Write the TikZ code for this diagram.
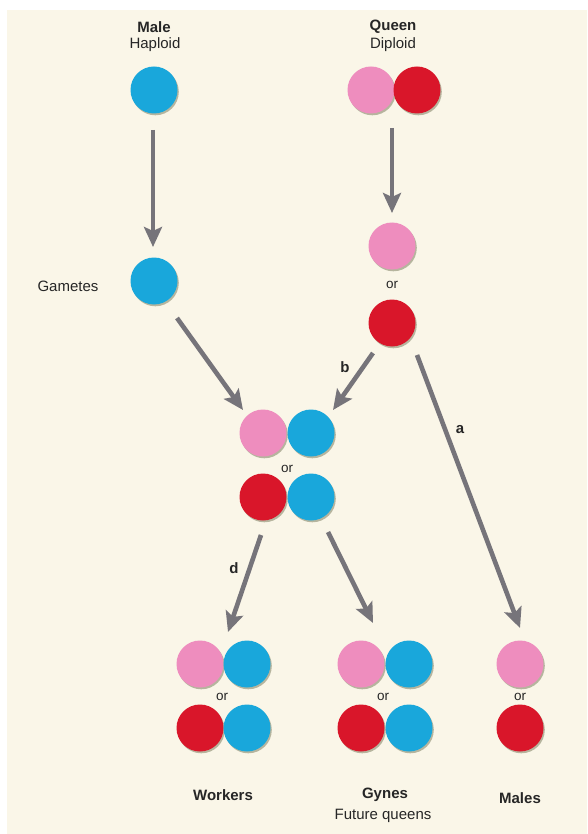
\documentclass[tikz,border=0pt]{standalone}
\usepackage{fontspec}
\setmainfont{Liberation Sans}
\usetikzlibrary{arrows.meta,calc,shadows}
\definecolor{bg}{HTML}{FAF6E8}
\definecolor{ballblue}{HTML}{19A7DB}
\definecolor{ballpink}{HTML}{EE8DBE}
\definecolor{ballred}{HTML}{D9162A}
\definecolor{arrowgray}{HTML}{76747A}
\definecolor{txt}{HTML}{262626}
\definecolor{shade}{HTML}{9A9A80}
\tikzset{
  ball/.style={circle, minimum size=47pt, inner sep=0pt, draw=none,
    drop shadow={shadow xshift=1.3pt, shadow yshift=-1.8pt, fill=shade, opacity=0.7}},
  bball/.style={ball, fill=ballblue},
  pball/.style={ball, fill=ballpink},
  rball/.style={ball, fill=ballred},
  arr/.style={draw=arrowgray, line width=4.6pt, -{Stealth[length=20pt,width=18pt,inset=4pt]}},
  lbl/.style={text=txt, font=\fontsize{15}{16}\selectfont, inner sep=0pt},
  blbl/.style={lbl, font=\fontsize{15}{16}\selectfont\bfseries},
  orlbl/.style={text=txt, font=\fontsize{13.5}{14}\selectfont, inner sep=0pt}
}
\begin{document}
\begin{tikzpicture}[x=1pt,y=-1pt]
\useasboundingbox (0,0) rectangle (587,834);
\fill[white] (0,0) rectangle (587,834);
\fill[bg] (7,10) rectangle (587,834);

% titles
\node[blbl] (tmale) at (154,27) {Male};
\node[lbl] (thap) at (155,45) {Haploid};
\node[blbl] (tqueen) at (393,27) {Queen};
\node[lbl] (tdip) at (393,45) {Diploid};
\node[lbl] (tgam) at (68,286) {Gametes};

% balls
\node[bball] (mh) at (154,90) {};
\node[bball] (mg) at (154,281) {};
\node[pball] (qp) at (371,90) {};
\node[rball] (qr) at (417,90) {};
\node[pball] (gp) at (392,246) {};
\node[orlbl] (gor) at (392,285) {or};
\node[rball] (gr) at (392,323) {};

\node[pball] (z1p) at (263,433) {};
\node[bball] (z1b) at (311,433) {};
\node[orlbl] (zor) at (287,469) {or};
\node[rball] (z2r) at (263,497) {};
\node[bball] (z2b) at (311,497) {};

\node[pball] (wp) at (200,664) {};
\node[bball] (wb) at (247,664) {};
\node[orlbl] (wor) at (222,697) {or};
\node[rball] (wr) at (200,728) {};
\node[bball] (wb2) at (247,728) {};

\node[pball] (yp) at (361,664) {};
\node[bball] (yb) at (409,664) {};
\node[orlbl] (yor) at (383,697) {or};
\node[rball] (yr) at (361,728) {};
\node[bball] (yb2) at (409,728) {};

\node[pball] (xp) at (520,664) {};
\node[orlbl] (xor) at (520,697) {or};
\node[rball] (xr) at (520,728) {};

% arrows
\draw[arr] ($(mh)+(-1,40)$) -- ($(mg)+(-1,-34)$);
\draw[arr] ($(qp)+(21,38)$) -- ($(gp)+(0,-33)$);
\draw[arr] ($(mg)+(23,37)$) -- ($(z1p)+(-20,-23)$);
\draw[arr] ($(gr)+(-19,30)$) -- ($(z1b)+(22,-23)$);
\draw[arr] ($(gr)+(25,32)$) -- ($(xp)+(0,-36)$);
\draw[arr] ($(z2r)+(-2,38)$) -- ($(wb)+(-19,-32)$);
\draw[arr] ($(z2b)+(17,35)$) -- ($(yp)+(12,-41)$);

% arrow labels
\node[blbl] (lb) at (345,367) {b};
\node[blbl] (la) at (460,430) {a};
\node[blbl] (ld) at (234,568) {d};

% bottom labels
\node[blbl] (twork) at (223,795) {Workers};
\node[blbl] (tgyn) at (385,795) {Gynes};
\node[lbl] (tfut) at (383,816) {Future queens};
\node[blbl] (tmales) at (520,798) {Males};
\end{tikzpicture}
\end{document}
